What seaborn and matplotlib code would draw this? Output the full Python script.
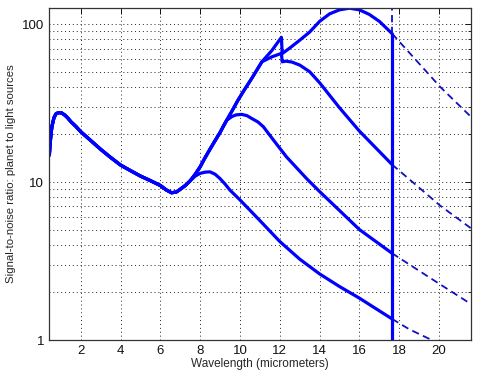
import matplotlib
matplotlib.use("Agg")
import matplotlib.pyplot as plt
import seaborn as sns
import pandas as pd
from matplotlib.ticker import FixedLocator, LogLocator, NullFormatter

# shared part of all four curves (before they split)
base_x = [0.42, 0.45, 0.5, 0.55, 0.65, 0.75, 0.85, 0.95, 1.05, 1.2, 1.35, 1.5, 1.75, 2,
          2.5, 3, 3.5, 4, 4.5, 5, 5.5, 6, 6.3, 6.56, 6.8, 7.0, 7.25, 7.5]
base_y = [14.8, 17.0, 20.0, 22.5, 25.5, 27.0, 27.4, 27.5, 27.3, 26.5, 25.4, 24.1, 22.5, 20.8,
          18.3, 16.1, 14.3, 12.8, 11.8, 10.9, 10.2, 9.5, 8.9, 8.55, 8.65, 9.0, 9.5, 10.2]

# rising branch shared by curves 2, 3 and 4
rise_x = [7.75, 8.0, 8.25, 8.5, 8.75, 9.0, 9.16, 9.33]
rise_y = [11.2, 12.5, 14.3, 16.2, 18.3, 20.6, 22.5, 24.6]
rise2_x = [9.6, 9.9, 10.2, 10.6, 11.1]
rise2_y = [28.2, 33.0, 38.0, 45.5, 57.7]

c1_x = [7.75, 8.0, 8.25, 8.49, 8.75, 9.0, 9.25, 9.49, 10, 11, 12, 13, 14, 15, 16, 17, 17.64]
c1_y = [10.9, 11.35, 11.55, 11.6, 11.2, 10.5, 9.7, 8.9, 7.7, 5.7, 4.2, 3.25, 2.62, 2.18, 1.84,
        1.53, 1.36]
c2_x = [9.6, 9.8, 10.09, 10.35, 10.6, 10.9, 11.17, 11.7, 12.34, 13.35, 14, 15, 16, 17.64]
c2_y = [26.0, 26.6, 26.8, 26.3, 25.2, 24.0, 22.4, 18.3, 14.4, 10.5, 8.7, 6.6, 5.0, 3.54]
c3_x = [11.6, 12.08, 12.12, 12.3, 12.6, 13.0, 13.5, 14, 15, 16, 17.64]
c3_y = [62, 65.2, 57.7, 58.2, 57.5, 55.0, 49.9, 42.5, 29.5, 21.0, 12.9]
c4_x = [11.6, 12.08, 12.12, 12.5, 13.0, 13.5, 14.0, 14.5, 15.0, 15.5, 16.0, 16.5, 17.0, 17.64]
c4_y = [68, 82.4, 65, 70.5, 79, 89, 104, 116, 123, 126, 123, 115, 104, 87]

# extrapolated (dashed) parts beyond the cutoff
d1_x = [17.64, 18.5, 19.63]
d1_y = [1.36, 1.17, 1.0]
d2_x = [17.64, 19.6, 21.6]
d2_y = [3.54, 2.45, 1.69]
d3_x = [17.64, 20.05, 21.6]
d3_y = [12.9, 7.1, 5.1]
d4_x = [17.64, 20.05, 21.6]
d4_y = [87, 40.1, 25.9]

cutoff = 17.64
cutoff_top = 87

sns.set_style("white")
plt.rcParams['font.family'] = ['Liberation Sans', 'DejaVu Sans']

fig = plt.figure(figsize=(4.8, 3.72), dpi=100)
ax = fig.add_axes([0.102, 0.086, 0.879, 0.892])

solid = [
    base_x + c1_x,
    base_x + rise_x + c2_x,
    base_x + rise_x + rise2_x + c3_x,
    base_x + rise_x + rise2_x + c4_x,
]
solid_y = [
    base_y + c1_y,
    base_y + rise_y + c2_y,
    base_y + rise_y + rise2_y + c3_y,
    base_y + rise_y + rise2_y + c4_y,
]
for xs, ys in zip(solid, solid_y):
    df = pd.DataFrame({'x': xs, 'y': ys})
    sns.lineplot(data=df, x='x', y='y', ax=ax, sort=False, estimator=None,
                 color='#0000ff', lw=2.3)

for xs, ys in [(d1_x, d1_y), (d2_x, d2_y), (d3_x, d3_y), (d4_x, d4_y)]:
    df = pd.DataFrame({'x': xs, 'y': ys})
    sns.lineplot(data=df, x='x', y='y', ax=ax, sort=False, estimator=None,
                 color='#1010c0', lw=1.3, linestyle=(0, (4, 2.5)))

# cutoff line
ax.plot([cutoff, cutoff], [1, cutoff_top], color='#0000ff', lw=2.3)
ax.plot([cutoff, cutoff], [cutoff_top, 130], color='#1010c0', lw=1.3,
        linestyle=(0, (4, 2.5)))

ax.set_yscale('log')
ax.set_xlim(0.4, 21.6)
ax.set_ylim(1, 126)
ax.xaxis.set_major_locator(FixedLocator(range(2, 21, 2)))
ax.set_yticks([1, 10, 100])
ax.set_yticklabels(['1', '10', '100'])
ax.yaxis.set_minor_locator(LogLocator(base=10, subs=range(2, 10)))
ax.yaxis.set_minor_formatter(NullFormatter())

grid_kw = dict(color='#222222', linestyle=(0, (1, 3)), lw=0.7)
ax.grid(True, which='major', axis='both', **grid_kw)
ax.grid(True, which='minor', axis='y', **grid_kw)

ax.tick_params(which='both', direction='in', top=True, right=True,
               labelsize=9.5, colors='#111111')
ax.tick_params(which='major', length=4, width=0.7)
ax.tick_params(which='minor', length=2, width=0.6)
for s in ax.spines.values():
    s.set_color('#333333')
    s.set_linewidth(0.9)

ax.set_xlabel('Wavelength (micrometers)', fontsize=8.5, labelpad=1)
ax.set_ylabel('Signal-to-noise ratio: planet to light sources', fontsize=8.2, labelpad=4)

plt.savefig('out.png', dpi=100)
plt.close()
